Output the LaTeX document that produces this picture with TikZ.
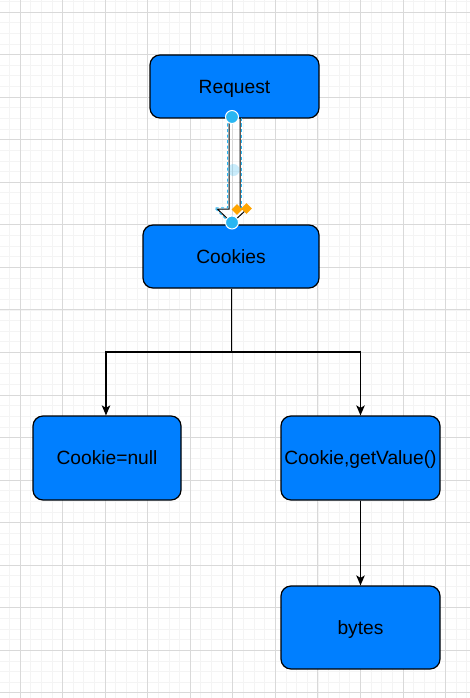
\documentclass[tikz,border=0pt]{standalone}
\usepackage{fontspec}
\setmainfont{Liberation Sans}
\usetikzlibrary{arrows.meta,shapes.geometric}
\definecolor{boxblue}{HTML}{007FFF}
\definecolor{gridminor}{HTML}{F4F4F4}
\definecolor{gridmajor}{HTML}{D9D9D9}
\definecolor{handle}{HTML}{29B6F2}
\definecolor{diam}{HTML}{FFA500}
\begin{document}
\begin{tikzpicture}[x=1pt,y=-1pt,
  box/.style={rectangle,draw=black,line width=1.2pt,fill=boxblue,rounded corners=10pt,
    inner sep=0pt,font=\fontsize{19.2}{22}\selectfont,text=black,
    text height=13.75pt,text depth=0pt},
  conn/.style={draw=black,line width=1.3pt,-{Stealth[length=10pt,width=8.5pt,inset=2.5pt]}},
  handlec/.style={circle,fill=handle,draw=white,line width=1pt,minimum size=13pt,inner sep=0pt},
  diamh/.style={diamond,fill=diam,minimum size=11pt,inner sep=0pt}]
\useasboundingbox (0,0) rectangle (470,698);
\fill[white] (0,0) rectangle (470,698);
\begin{scope}
\clip (0,0) rectangle (470,698);
\foreach \i in {-2,...,42} {\pgfmathsetmacro\xx{20+\i*10.6375}
  \draw[gridminor,line width=0.7pt] (\xx,0) -- (\xx,698);}
\foreach \j in {-1,...,64} {\pgfmathsetmacro\yy{12+\j*10.6375}
  \draw[gridminor,line width=0.7pt] (0,\yy) -- (470,\yy);}
\foreach \i in {0,...,10} {\pgfmathsetmacro\xx{20+\i*42.55}
  \draw[gridmajor,line width=0.9pt] (\xx,0) -- (\xx,698);}
\foreach \j in {0,...,16} {\pgfmathsetmacro\yy{12+\j*42.55}
  \draw[gridmajor,line width=0.9pt] (0,\yy) -- (470,\yy);}
\end{scope}

\node[box,minimum width=169pt,minimum height=63pt] (req) at (234.5,86.5) {Request};
\node[box,minimum width=176pt,minimum height=63pt] (cook) at (231,256.5) {Cookies};
\node[box,minimum width=148pt,minimum height=84pt] (null) at (107,458) {Cookie=null};
\node[box,minimum width=159pt,minimum height=84pt] (getv) at (360.5,458) {Cookie,getValue()};
\node[box,minimum width=159pt,minimum height=83pt] (bytes) at (360.5,627.5) {bytes};

\coordinate (split) at (231.5,352);
\draw[conn] (cook.south -| split) -- (split) -| (null.north -| 106,0);
\draw[conn] (split) -| (getv.north);
\draw[conn] (getv.south) -- (bytes.north);

% flex arrow (selected) from Request to Cookies
\coordinate (ftip) at (232,223);
\draw[black,line width=1pt,line join=miter] (229,118) -- (229,209) -- (217.3,209) -- (ftip) -- (247,209) -- (240,209) -- (240,118);
\draw[handle,line width=1pt,dash pattern=on 3pt off 2.5pt] (227.7,118) -- (227.7,207.8) -- (214.5,207.8) -- (231.5,224.5);
\draw[handle,line width=1pt,dash pattern=on 3pt off 2.5pt] (241.3,118) -- (241.3,207.8);
\node[handlec] (h1) at (232,117) {};
\node[handlec] (h2) at (232,222.5) {};
\node[circle,fill=handle,opacity=0.25,minimum size=12pt,inner sep=0pt] (hm) at (233.5,170) {};
\node[diamh] (d1) at (237,209.5) {};
\node[diamh] (d2) at (246.5,208.5) {};
\end{tikzpicture}
\end{document}
